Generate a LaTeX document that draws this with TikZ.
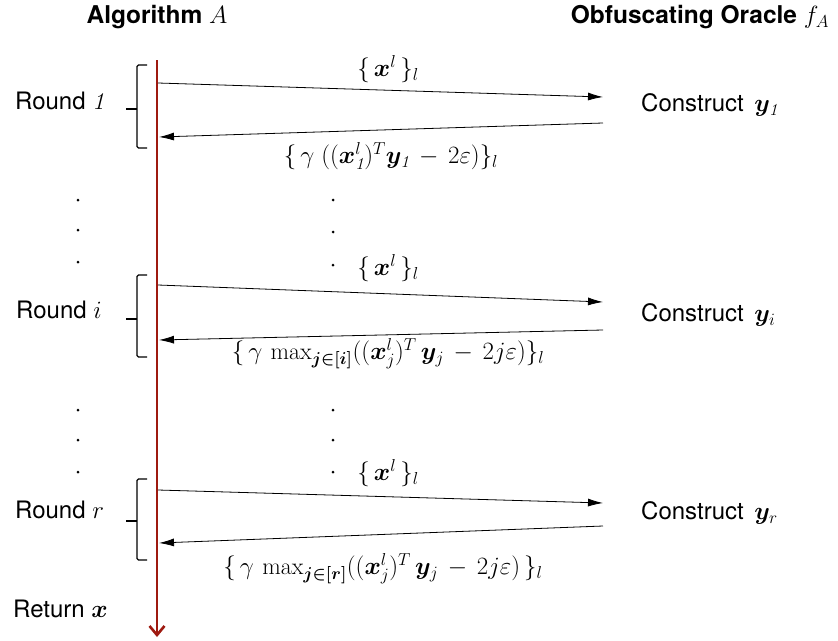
\documentclass[tikz,border=0pt]{standalone}
\usepackage{amsmath,amssymb,bm}
\usepackage{fontspec}
\setsansfont{TeX Gyre Heros}
\usetikzlibrary{arrows.meta,positioning,calc}
\definecolor{darkred}{RGB}{158,26,16}

\begin{document}
\begin{tikzpicture}[x=1pt, y=-1pt,
        every node/.style={font=\fontsize{24}{28}\selectfont, inner sep=1pt},
        txt/.style={font=\fontsize{24}{28}\selectfont\sffamily},
        head/.style={font=\fontsize{24.5}{28}\selectfont\sffamily\bfseries},
        msg/.style={line width=0.8pt, -{Latex[length=15pt,width=8pt]}},
        timeline/.style={line width=2.6pt, darkred, -{Straight Barb[length=9pt,width=15pt,line width=2.6pt]}},
        brkt/.style={line width=1.1pt, rounded corners=1.5pt},
        dot/.style={circle, fill=black, inner sep=0pt, minimum size=3pt}
      ]
        % feste Bildgroesse wie Vorlage
        \useasboundingbox (0,0) rectangle (838,640);

        % Ueberschriften
        \node[head] (alg) at (157,17) {Algorithm \mdseries$A$};
        \node[head] (orc) at (700,17) {Obfuscating Oracle \mdseries$f_A$};

        % Zeitachse des Algorithmus
        \coordinate (top) at (157,60);
        \coordinate (bot) at (157,637);
        \draw[timeline] (top) -- (bot);

        % Rundenbeschriftung
        \node[txt, anchor=west] (r1) at (14,101) {Round $\mathit{1}$};
        \node[txt, anchor=west] (ri) at (15,310) {Round $i$};
        \node[txt, anchor=west] (rr) at (14,510) {Round $r$};
        \node[txt, anchor=west] (ret) at (12,609) {Return $\boldsymbol{x}$};

        % Klammern (oben, unten, Mitte)
        \foreach \t/\b/\m in {65/148/109, 275/357/319, 479/560/521} {%
          \draw[brkt] (147,\t) -- (137,\t) -- (137,\b) -- (147,\b);
          \draw[brkt] (126,\m) -- (137,\m);
        }

        % Orakel
        \node[txt, anchor=west] (c1) at (640,105) {Construct\, $\boldsymbol{y}_{\mathit{1}}$};
        \node[txt, anchor=west] (ci) at (640,315) {Construct\, $\boldsymbol{y}_i$};
        \node[txt, anchor=west] (cr) at (640,513) {Construct\, $\boldsymbol{y}_r$};

        % Endpunkte der Nachrichten
        \coordinate (a1) at (158,83);  \coordinate (b1) at (603,97);
        \coordinate (d1) at (603,123); \coordinate (e1) at (159,137);
        \coordinate (ai) at (158,285); \coordinate (bi) at (603,302);
        \coordinate (di) at (603,330); \coordinate (ei) at (159,340);
        \coordinate (ar) at (158,490); \coordinate (br) at (603,503);
        \coordinate (dr) at (603,526); \coordinate (er) at (159,543);

        % Nachrichten
        \draw[msg] (a1) -- (b1);
        \draw[msg] (d1) -- (e1);
        \draw[msg] (ai) -- (bi);
        \draw[msg] (di) -- (ei);
        \draw[msg] (ar) -- (br);
        \draw[msg] (dr) -- (er);

        % Beschriftungen der Nachrichten
        \node (q1) at (388,69) {$\{\,\boldsymbol{x}^l\,\}_l$};
        \node (p1) at (391,156) {$\{\,\gamma\;((\boldsymbol{x}_{\mathit{1}}^l)^T\boldsymbol{y}_{\mathit{1}}\,-\,2\varepsilon)\}_l$};
        \node (qi) at (388,268) {$\{\,\boldsymbol{x}^l\,\}_l$};
        \node (pi) at (388,354) {$\{\,\gamma\,\max_{\boldsymbol{j\in[i]}}((\boldsymbol{x}_j^l)^T\,\boldsymbol{y}_j\,-\,2j\varepsilon)\}_l$};
        \node (qr) at (388,473) {$\{\,\boldsymbol{x}^l\,\}_l$};
        \node (pr) at (383,569) {$\{\,\gamma\,\max_{\boldsymbol{j\in[r]}}((\boldsymbol{x}_j^l)^T\,\boldsymbol{y}_j\,-\,2j\varepsilon)\,\}_l$};

        % Auslassungspunkte
        \foreach \yy in {200,230,262,410,440,472} {%
          \node[dot] at (78,\yy) {};
        }
        \foreach \yy in {200,232,265,410,440,472} {%
          \node[dot] at (333,\yy) {};
        }
      \end{tikzpicture}
\end{document}
